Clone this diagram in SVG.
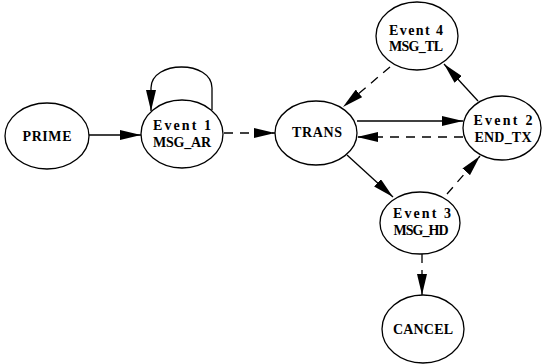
<svg xmlns="http://www.w3.org/2000/svg" width="543" height="364" viewBox="0 0 543 364">
<defs>
<style>
.n{fill:#fff;stroke:#000;stroke-width:1.3}
.t{font-family:"Liberation Serif",serif;font-weight:bold;font-size:14px;fill:#000;text-anchor:middle}
.e{stroke:#000;stroke-width:1.3;fill:none;marker-end:url(#ah)}
.d{stroke-dasharray:9 7}
</style>
<marker id="ah" markerUnits="userSpaceOnUse" markerWidth="21" markerHeight="10" refX="21" refY="5" orient="auto">
<path d="M0,0 L21,5 L0,10 z" fill="#000"/>
</marker>
</defs>
<rect width="543" height="364" fill="#fff"/>
<g id="connectors">
<path class="e" d="M212,110 L212,88 C212,60 151,60 151,88 L151,111"/>
<line class="e" x1="89" y1="135" x2="141" y2="135"/>
<line class="e d" x1="224" y1="133" x2="275" y2="133"/>
<line class="e" x1="357" y1="121" x2="463" y2="121"/>
<line class="e d" x1="463" y1="137" x2="357" y2="137"/>
<line class="e d" x1="390" y1="67" x2="343" y2="107"/>
<line class="e" x1="478" y1="101" x2="444" y2="64"/>
<line class="e" x1="347" y1="155" x2="393" y2="197"/>
<line class="e d" x1="447" y1="194" x2="480" y2="156"/>
<line class="e d" x1="422" y1="254" x2="422" y2="295"/>
</g>
<g id="prime"><ellipse class="n" cx="47" cy="136" rx="42" ry="33"/><text class="t" x="47" y="141" textLength="49" lengthAdjust="spacing">PRIME</text></g>
<g id="event1"><ellipse class="n" cx="182" cy="134" rx="41" ry="34"/><text class="t" x="182" y="130" textLength="58" lengthAdjust="spacing">Event 1</text><text class="t" x="182" y="147" textLength="58" lengthAdjust="spacing">MSG_AR</text></g>
<g id="trans"><ellipse class="n" cx="316" cy="133" rx="41" ry="32"/><text class="t" x="317" y="137" textLength="50" lengthAdjust="spacing">TRANS</text></g>
<g id="event4"><ellipse class="n" cx="417" cy="36" rx="41" ry="34"/><text class="t" x="416" y="35" textLength="54" lengthAdjust="spacing">Event 4</text><text class="t" x="416" y="51" textLength="54" lengthAdjust="spacing">MSG_TL</text></g>
<g id="event2"><ellipse class="n" cx="502" cy="128" rx="39" ry="32"/><text class="t" x="503" y="125" textLength="59" lengthAdjust="spacing">Event 2</text><text class="t" x="503" y="142" textLength="57" lengthAdjust="spacing">END_TX</text></g>
<g id="event3"><ellipse class="n" cx="420" cy="223" rx="40" ry="31"/><text class="t" x="422" y="218" textLength="58" lengthAdjust="spacing">Event 3</text><text class="t" x="421" y="235" textLength="55" lengthAdjust="spacing">MSG_HD</text></g>
<g id="cancel"><ellipse class="n" cx="423" cy="329" rx="41" ry="34"/><text class="t" x="423" y="334" textLength="60" lengthAdjust="spacing">CANCEL</text></g>
</svg>
